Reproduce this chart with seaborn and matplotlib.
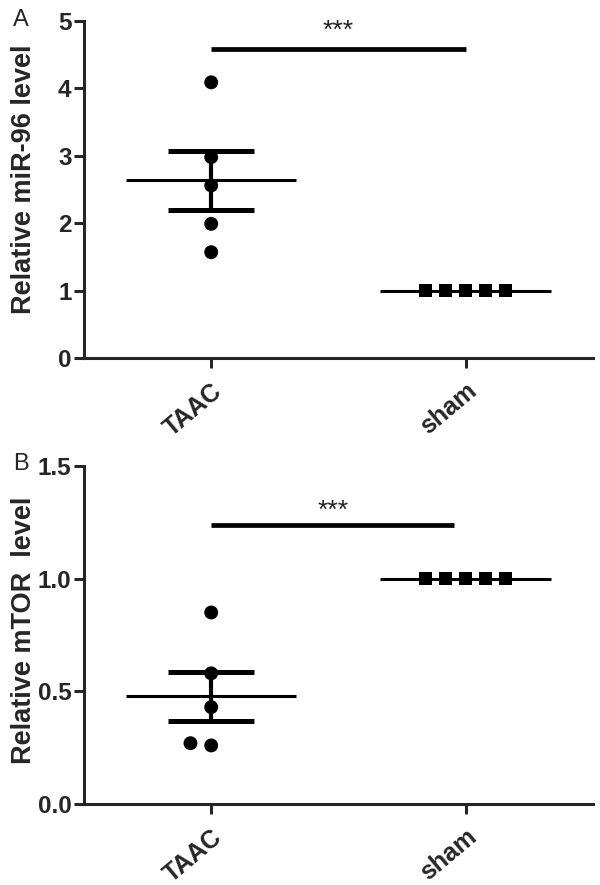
# scatter plot with mean and SEM, two panels (miR-96 and mTOR)

import numpy as np
import pandas as pd
import matplotlib
matplotlib.use('Agg')
import matplotlib.pyplot as plt
import seaborn as sns

# values
groups = ['TAAC', 'sham']
taac_mir = [4.09, 2.98, 2.56, 1.99, 1.57]
sham_mir = [1.00, 1.00, 1.00, 1.00, 1.00]
taac_mtor = [0.85, 0.58, 0.43, 0.26, 0.27]
sham_mtor = [1.00, 1.00, 1.00, 1.00, 1.00]
sig_mir = 4.59
sig_mtor = 1.24
ticks_mir = [0, 1, 2, 3, 4, 5]
ticks_mtor = [0.0, 0.5, 1.0, 1.5]

sns.set_style('ticks')
plt.rcParams['font.family'] = ['Liberation Sans', 'DejaVu Sans']

fig = plt.figure(figsize=(6, 8.85), dpi=100)
ax1 = fig.add_axes([0.14, 0.5955, 0.848, 0.3808])
ax2 = fig.add_axes([0.14, 0.0915, 0.848, 0.3819])


def draw_panel(ax, taac, sham, sig, sig_end, yticks, ylabel, fmt, star_y, label_y):
    df = pd.DataFrame({'group': ['TAAC'] * len(taac) + ['sham'] * len(sham),
                       'value': taac + sham})
    # mean and sem lines
    for i, g in enumerate(groups):
        vals = np.array(df[df.group == g].value)
        m = vals.mean()
        se = vals.std(ddof=1) / np.sqrt(len(vals))
        ax.hlines(m, i - 0.335, i + 0.335, color='black', lw=2.2, zorder=2)
        if se > 0:
            ax.vlines(i, m - se, m + se, color='black', lw=3, zorder=2)
            ax.hlines([m - se, m + se], i - 0.17, i + 0.17, color='black',
                      lw=3.6, zorder=2)
    sns.swarmplot(data=df[df.group == 'TAAC'], x='group', y='value', order=groups,
                  color='black', marker='o', size=10, linewidth=4.3,
                  edgecolor='none', ax=ax, zorder=3)
    sns.swarmplot(data=df[df.group == 'sham'], x='group', y='value', order=groups,
                  color='black', marker='s', size=9.5, linewidth=4.3,
                  edgecolor='none', ax=ax, zorder=3)
    # significance bar
    ax.hlines(sig, 0, sig_end, color='black', lw=3.4)
    ax.text((0 + sig_end) / 2, star_y, '***', ha='center', va='center',
            fontsize=19, color='#222222')

    ax.set_xlim(-0.5, 1.5)
    ax.set_ylim(yticks[0], yticks[-1])
    ax.set_yticks(yticks)
    ax.set_yticklabels([fmt.format(t) for t in yticks], fontsize=17.5,
                       fontweight='bold')
    ax.set_xticks([0, 1])
    ax.set_xticklabels(groups, fontsize=18, fontweight='bold', rotation=40,
                       ha='right', rotation_mode='anchor')
    ax.set_xlabel('')
    ax.set_ylabel(ylabel, fontsize=19.5, fontweight='bold')
    ax.yaxis.set_label_coords(-0.092, label_y)
    ax.tick_params(width=2.2, length=7, pad=2)
    ax.tick_params(axis='x', pad=8)
    for s in ['left', 'bottom']:
        ax.spines[s].set_linewidth(2.2)
    sns.despine(ax=ax)


draw_panel(ax1, taac_mir, sham_mir, sig_mir, 1.0, ticks_mir,
           'Relative miR-96 level', '{:d}', 4.85, 0.53)
draw_panel(ax2, taac_mtor, sham_mtor, sig_mtor, 0.955, ticks_mtor,
           'Relative mTOR  level', '{:.1f}', 1.30, 0.515)

fig.text(13 / 600, 0.9706, 'A', fontsize=17, va='baseline')
fig.text(13 / 600, 0.469, 'B', fontsize=17, va='baseline')

plt.savefig('out.png', dpi=100)
